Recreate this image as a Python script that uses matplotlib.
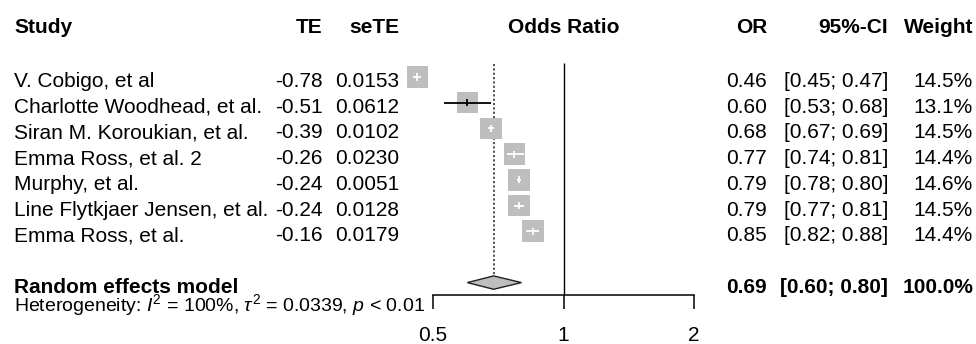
import matplotlib
matplotlib.use("Agg")
import matplotlib.pyplot as plt
import matplotlib.transforms as mtransforms
import numpy as np

plt.rcParams["font.family"] = ["Liberation Sans", "DejaVu Sans"]
plt.rcParams["mathtext.fontset"] = "custom"
plt.rcParams["mathtext.rm"] = "Liberation Sans"
plt.rcParams["mathtext.it"] = "Liberation Sans:italic"

# ---------- data ----------
studies = ["V. Cobigo, et al", "Charlotte Woodhead, et al.",
           "Siran M. Koroukian, et al.", "Emma Ross, et al. 2",
           "Murphy, et al.", "Line Flytkjaer Jensen, et al.", "Emma Ross, et al."]
te = [-0.78, -0.51, -0.39, -0.26, -0.24, -0.24, -0.16]
se_te = [0.0153, 0.0612, 0.0102, 0.0230, 0.0051, 0.0128, 0.0179]
odds = [0.46, 0.60, 0.68, 0.77, 0.79, 0.79, 0.85]
ci_low = [0.45, 0.53, 0.67, 0.74, 0.78, 0.77, 0.82]
ci_high = [0.47, 0.68, 0.69, 0.81, 0.80, 0.81, 0.88]
weights = [14.5, 13.1, 14.5, 14.4, 14.6, 14.5, 14.4]

pooled_or = 0.69
pooled_low = 0.60
pooled_high = 0.80
pooled_weight = 100.0
hetero = r"Heterogeneity: $I^2$ = 100%, $\tau^2$ = 0.0339, $p$ < 0.01"

ticks = [0.5, 1, 2]
tick_labels = ["0.5", "1", "2"]

# ---------- layout (pixels of a 976x344 canvas) ----------
W, H = 976, 344
fs = 15
row0_px, row_h = 77, 25.7         # centre of first study row, row height
axis_px = 295                     # y of the x-axis line
x_lo_px, x_hi_px = 433, 694       # x positions of 0.5 and 2

fig = plt.figure(figsize=(W / 100, H / 100), dpi=100)
ax = fig.add_axes([x_lo_px / W, (H - axis_px) / H,
                   (x_hi_px - x_lo_px) / W, axis_px / H])
ax.set_xscale("log")
ax.set_xlim(0.5, 2)
r_bottom = 1 + (axis_px - row0_px) / row_h
r_top = 1 - row0_px / row_h
ax.set_ylim(r_bottom, r_top)

for side in ["left", "right", "top"]:
    ax.spines[side].set_visible(False)
ax.spines["bottom"].set_linewidth(1.1)
ax.set_yticks([])
ax.xaxis.set_minor_locator(matplotlib.ticker.NullLocator())
ax.set_xticks(ticks)
ax.set_xticklabels(tick_labels, fontsize=fs)
ax.tick_params(axis="x", direction="out", length=10, width=1.1, pad=12.5)

rows = np.arange(1, len(studies) + 1)
sum_row = len(studies) + 2

# reference lines
ax.vlines(1, 0.45, r_bottom, color="black", lw=1.0, zorder=1)
ax.vlines(pooled_or, 0.5, sum_row, color="#333333", lw=1.2,
          linestyles=(0, (1.3, 1.3)), zorder=1)

# squares
px_to_pt = 0.72
sides_pt = [21.6 * np.sqrt(w / 14.5) * px_to_pt for w in weights]
ax.scatter(odds, rows, marker="s", s=np.array(sides_pt) ** 2,
           color="#bebebe", linewidths=0, zorder=2, clip_on=False)

# confidence intervals, white inside the square, black when wider
fig.canvas.draw()
for r, o, lo, hi, sp in zip(rows, odds, ci_low, ci_high, sides_pt):
    xl = ax.transData.transform((lo, r))[0]
    xh = ax.transData.transform((hi, r))[0]
    col = "white" if (xh - xl) < sp / px_to_pt else "black"
    ax.plot([lo, hi], [r, r], color=col, lw=1.3, zorder=3,
            solid_capstyle="butt", clip_on=False)
    ax.plot([o, o], [r - 0.14, r + 0.14], color=col, lw=1.3, zorder=3,
            solid_capstyle="butt", clip_on=False)

# pooled diamond
dh = 0.26
ax.fill([pooled_low, pooled_or, pooled_high, pooled_or],
        [sum_row, sum_row - dh, sum_row, sum_row + dh],
        facecolor="#bebebe", edgecolor="#222222", lw=1.0, zorder=4)

# ---------- text columns ----------
tr = mtransforms.blended_transform_factory(fig.transFigure, ax.transData)
base = 0.39      # baseline offset below a row centre, in rows
hdr = -1.09


def put(px, r, s, ha="left", bold=False, size=fs):
    fig.text(px / W, r + base, s, transform=tr, ha=ha, va="baseline",
             fontsize=size, fontweight="bold" if bold else "normal")


put(14, hdr, "Study", bold=True)
put(322.5, hdr, "TE", ha="right", bold=True)
put(399, hdr, "seTE", ha="right", bold=True)
put(563.5, hdr, "Odds Ratio", ha="center", bold=True)
put(767, hdr, "OR", ha="right", bold=True)
put(888, hdr, "95%-CI", ha="right", bold=True)
put(973, hdr, "Weight", ha="right", bold=True)

for r, name, t, s, o, lo, hi, w in zip(rows, studies, te, se_te, odds,
                                       ci_low, ci_high, weights):
    put(14, r, name)
    put(322.5, r, f"{t:.2f}", ha="right")
    put(399, r, f"{s:.4f}", ha="right")
    put(767, r, f"{o:.2f}", ha="right")
    put(888, r, f"[{lo:.2f}; {hi:.2f}]", ha="right")
    put(973, r, f"{w:.1f}%", ha="right")

put(14, sum_row, "Random effects model", bold=True)
put(767, sum_row, f"{pooled_or:.2f}", ha="right", bold=True)
put(888, sum_row, f"[{pooled_low:.2f}; {pooled_high:.2f}]", ha="right", bold=True)
put(973, sum_row, f"{pooled_weight:.1f}%", ha="right", bold=True)

put(14, 9.72, hetero, size=14)

fig.savefig("out.png", dpi=100)
